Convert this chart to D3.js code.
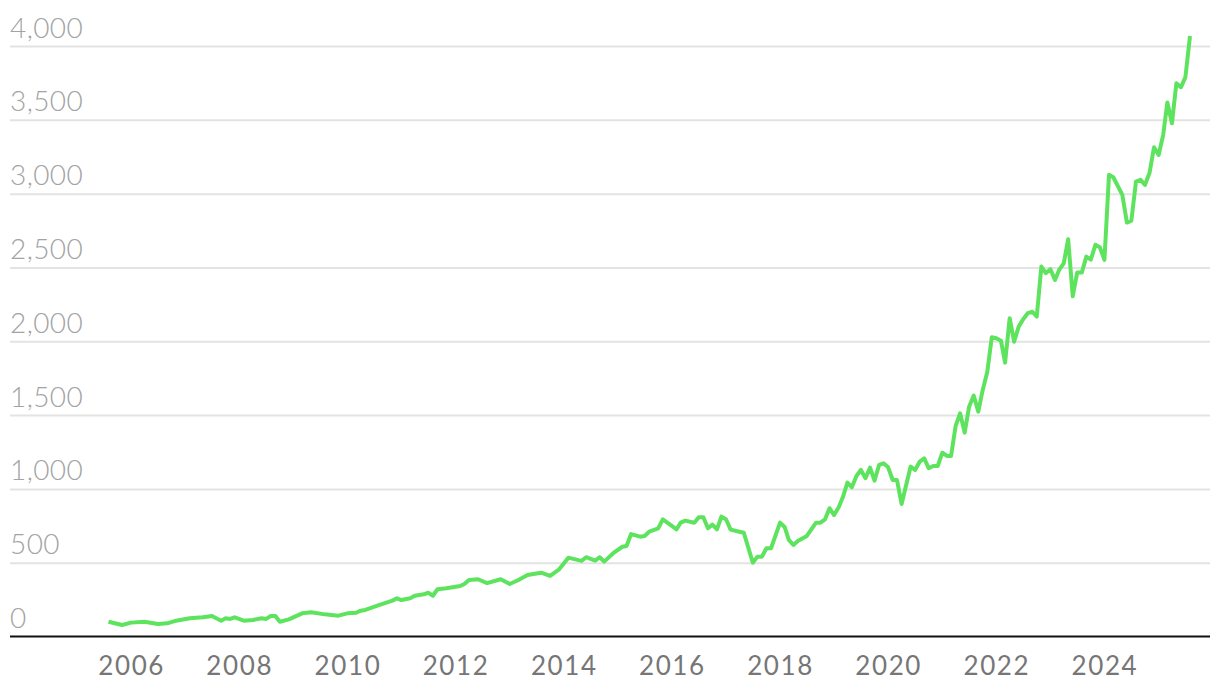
<!DOCTYPE html>
<html>
<head>
<meta charset="utf-8">
<script src="https://cdn.jsdelivr.net/npm/d3@7"></script>
<style>
  html, body { margin: 0; padding: 0; background: #fff; }
  svg { display: block; }
</style>
</head>
<body>
<svg id="chart" width="1220" height="694"></svg>
<script>
// ---- Data ----
const dates = [
  "2005-08","2005-11","2006-01","2006-04","2006-07","2006-09","2006-11",
  "2007-02","2007-05","2007-07","2007-09","2007-10","2007-11","2007-12",
  "2008-02","2008-04","2008-06","2008-07","2008-08","2008-09","2008-10","2008-12",
  "2009-03","2009-05","2009-08","2009-11",
  "2010-01","2010-03","2010-04","2010-05","2010-08","2010-11","2010-12",
  "2011-01","2011-03","2011-04","2011-06","2011-07","2011-08","2011-09","2011-11",
  "2012-02","2012-03","2012-04","2012-06","2012-08","2012-11",
  "2013-01","2013-03","2013-05","2013-08","2013-10","2013-12",
  "2014-02","2014-05","2014-06","2014-08","2014-09","2014-10","2014-12",
  "2015-02","2015-03","2015-04","2015-06","2015-07","2015-08","2015-10","2015-11",
  "2016-01","2016-02","2016-03","2016-04","2016-06","2016-07","2016-08","2016-09","2016-10","2016-11","2016-12",
  "2017-01","2017-02","2017-04","2017-05","2017-07","2017-08","2017-09","2017-10","2017-11",
  "2018-01","2018-02","2018-03","2018-04","2018-05","2018-07","2018-09","2018-10","2018-11","2018-12",
  "2019-01","2019-02","2019-03","2019-04","2019-05","2019-06","2019-07","2019-08","2019-09","2019-10","2019-11","2019-12",
  "2020-01","2020-02","2020-03","2020-04","2020-06","2020-07","2020-08","2020-09","2020-10","2020-11","2020-12",
  "2021-01","2021-02","2021-03","2021-04","2021-05","2021-06","2021-07","2021-08","2021-09","2021-10","2021-11","2021-12",
  "2022-01","2022-02","2022-03","2022-04","2022-05","2022-06","2022-07","2022-08","2022-09","2022-10","2022-11","2022-12",
  "2023-01","2023-02","2023-03","2023-04","2023-05","2023-06","2023-07","2023-08","2023-09","2023-10","2023-11","2023-12",
  "2024-01","2024-02","2024-03","2024-05","2024-06","2024-07","2024-08","2024-09","2024-10","2024-11","2024-12",
  "2025-01","2025-02","2025-03","2025-04","2025-05","2025-06","2025-07","2025-08"
];
const values = [
  100,78,94,100,85,89,107,
  123,130,139,107,123,119,130,
  107,112,123,119,139,139,100,116,
  157,164,150,141,
  157,161,175,180,213,243,259,
  247,259,276,286,297,276,320,327,
  342,356,383,388,362,388,
  356,383,417,432,410,455,
  534,512,537,514,537,507,564,
  608,613,694,676,681,710,733,794,
  749,726,771,785,771,808,808,733,758,726,812,
  794,724,710,703,500,541,541,598,598,
  771,742,654,620,647,681,771,771,794,869,
  823,875,943,1042,1011,1087,1128,1072,1144,1056,1162,1173,
  1146,1060,1060,898,1151,1128,1184,1207,1140,1155,1155,
  1245,1223,1223,1426,1512,1381,1557,1632,1523,1670,1794,2027,
  2020,2004,1855,2156,1997,2099,2149,2190,2200,2167,2506,2461,
  2488,2415,2483,2528,2691,2305,2465,2465,2573,2553,2653,2637,
  2551,3127,3111,2991,2804,2817,3081,3093,3059,3142,3314,
  3262,3398,3617,3477,3748,3721,3789,4068
];
const yTicks = [0, 500, 1000, 1500, 2000, 2500, 3000, 3500, 4000];
const xTickYears = [2006, 2008, 2010, 2012, 2014, 2016, 2018, 2020, 2022, 2024];

// ---- Layout ----
const svg = d3.select("#chart");
const plotLeft = 10, plotRight = 1210;
const parse = d3.timeParse("%Y-%m");
const data = dates.map((d, i) => ({ date: parse(d), value: values[i] }));

const x = d3.scaleTime()
  .domain([parse("2005-08"), parse("2025-08")])
  .range([108.5, 1190]);
const y = d3.scaleLinear()
  .domain([0, 4000])
  .range([636.5, 46]);

// Gridlines + y labels
const yAxis = d3.axisLeft(y).tickValues(yTicks).tickSize(0).tickFormat(d3.format(","));
const gy = svg.append("g").call(yAxis);
gy.select(".domain").remove();
gy.attr("font-family", null).attr("font-size", null);
gy.selectAll(".tick").each(function(d) {
  const t = d3.select(this);
  t.select("text")
    .attr("x", plotLeft).attr("dy", null).attr("y", -9)
    .attr("text-anchor", "start")
    .style("font-family", "Lato, 'Open Sans', sans-serif")
    .style("font-weight", 300)
    .style("font-size", "28px")
    .style("letter-spacing", "0.4px")
    .attr("fill", "#a3a3a3");
  if (d !== 0) {
    t.insert("line", "text")
      .attr("x1", plotLeft).attr("x2", plotRight)
      .attr("stroke", "#e3e3e3").attr("stroke-width", 2);
  }
});

// X axis
const xAxis = d3.axisBottom(x)
  .tickValues(xTickYears.map(yr => new Date(yr, 0, 1)))
  .tickSize(0)
  .tickFormat(d3.timeFormat("%Y"));
const gx = svg.append("g").attr("transform", `translate(0, ${y(0)})`).call(xAxis);
gx.select(".domain").remove();
gx.attr("font-family", null).attr("font-size", null);
gx.selectAll("text")
  .attr("dy", null).attr("y", 38.5)
  .style("font-family", "Lato, 'Open Sans', sans-serif")
  .style("font-size", "26px")
  .style("letter-spacing", "1.6px")
  .attr("fill", "#767676");

// Baseline (zero axis)
svg.append("line")
  .attr("x1", plotLeft).attr("x2", plotRight)
  .attr("y1", y(0)).attr("y2", y(0))
  .attr("stroke", "#111").attr("stroke-width", 2.2);

// Line
const line = d3.line().x(d => x(d.date)).y(d => y(d.value));
svg.append("path")
  .datum(data)
  .attr("fill", "none")
  .attr("stroke", "#5ee35e")
  .attr("stroke-width", 4)
  .attr("stroke-linejoin", "round")
  .attr("d", line);
</script>
</body>
</html>
